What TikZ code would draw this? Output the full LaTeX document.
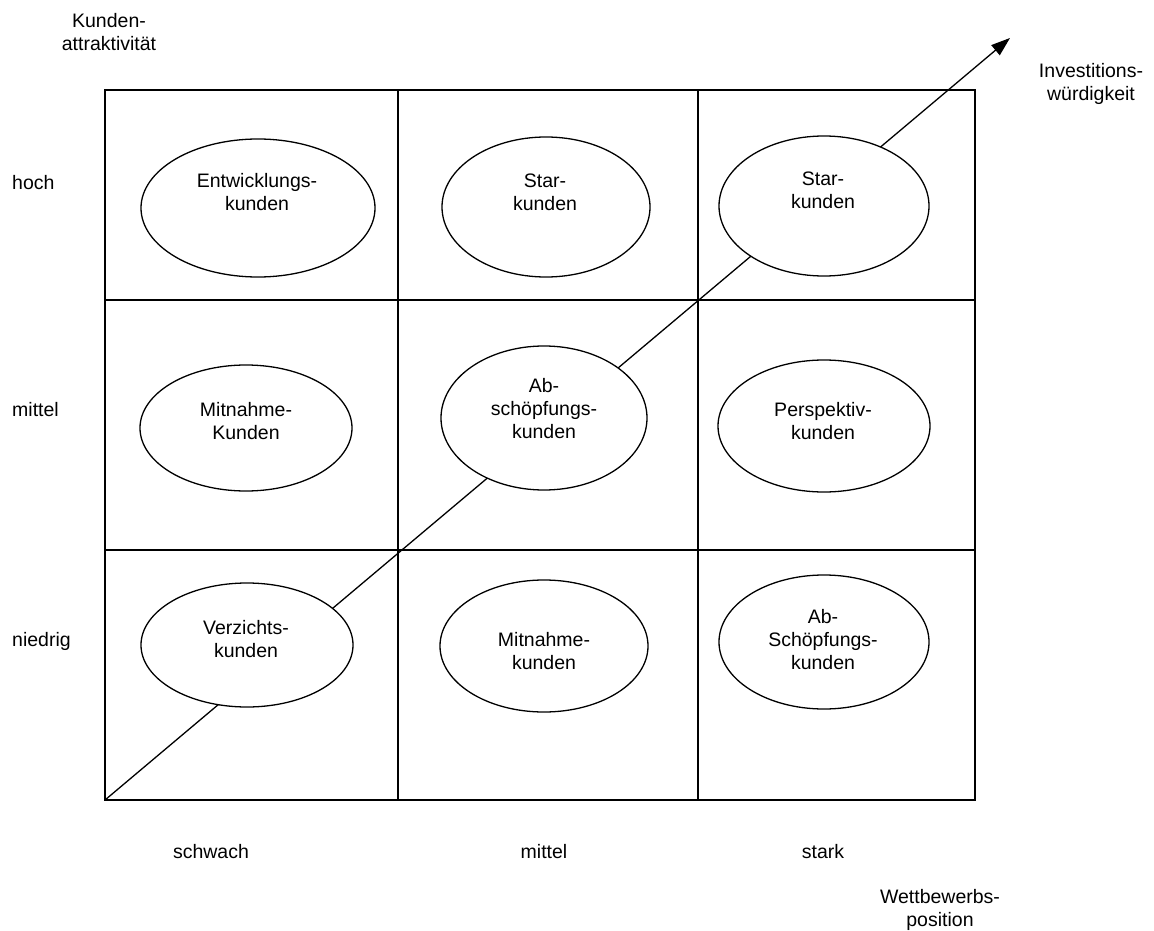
\documentclass[tikz,border=0pt]{standalone}
\usepackage{fontspec}
\setmainfont{Liberation Sans}
\usetikzlibrary{shapes.geometric,arrows.meta}
\tikzset{
  grid/.style={line width=1.7pt, line cap=rect},
  ell/.style={ellipse, draw, line width=1.3pt, fill=white, inner sep=0pt},
  lbl/.style={align=center, inner sep=0pt, font=\fontsize{19.5}{23}\selectfont},
  axis/.style={line width=1.3pt, -{Triangle[length=19pt,width=13pt]}}
}
\begin{document}
\begin{tikzpicture}[x=1pt,y=-1pt]
\useasboundingbox (0,0) rectangle (1154,931);
% grid corners
\coordinate (tl) at (105,90);
\coordinate (tr) at (975,90);
\coordinate (bl) at (105,800);
\coordinate (br) at (975,800);
\coordinate (v1t) at (398,90);
\coordinate (v1b) at (398,800);
\coordinate (v2t) at (698,90);
\coordinate (v2b) at (698,800);
\coordinate (h1l) at (105,300);
\coordinate (h1r) at (975,300);
\coordinate (h2l) at (105,550);
\coordinate (h2r) at (975,550);
\coordinate (tip) at (1010,38);
\draw[grid] (tl) rectangle (br);
\draw[grid] (v1t) -- (v1b);
\draw[grid] (v2t) -- (v2b);
\draw[grid] (h1l) -- (h1r);
\draw[grid] (h2l) -- (h2r);
% diagonal arrow
\draw[axis] (bl) -- (tip);
% ellipses
\node[ell, minimum width=234, minimum height=138] (e11) at (258,208) {};
\node[ell, minimum width=208, minimum height=140] (e12) at (546,207) {};
\node[ell, minimum width=210, minimum height=140] (e13) at (824,206) {};
\node[ell, minimum width=212, minimum height=126] (e21) at (246,428) {};
\node[ell, minimum width=206, minimum height=144] (e22) at (544,418) {};
\node[ell, minimum width=212, minimum height=132] (e23) at (824,426) {};
\node[ell, minimum width=212, minimum height=124] (e31) at (247,645) {};
\node[ell, minimum width=208, minimum height=132] (e32) at (544,646) {};
\node[ell, minimum width=210, minimum height=134] (e33) at (824,642) {};
% ellipse texts
\node[lbl] (t11) at (257,192) {Entwicklungs-\\kunden};
\node[lbl] (t12) at (545,192) {Star-\\kunden};
\node[lbl] (t13) at (823,190) {Star-\\kunden};
\node[lbl] (t21) at (246,421) {Mitnahme-\\Kunden};
\node[lbl] (t22) at (544,409) {Ab-\\schöpfungs-\\kunden};
\node[lbl] (t23) at (823,421) {Perspektiv-\\kunden};
\node[lbl] (t31) at (246,639) {Verzichts-\\kunden};
\node[lbl] (t32) at (544,651) {Mitnahme-\\kunden};
\node[lbl] (t33) at (823,640) {Ab-\\Schöpfungs-\\kunden};
% axis labels
\node[lbl] (ka) at (109,32) {Kunden-\\attraktivität};
\node[lbl] (iw) at (1091,84) {Investitions-\\würdigkeit};
\node[lbl] (wp) at (940,910) {Wettbewerbs-\\position};
\node[lbl, anchor=west] (rhoch) at (12,183) {hoch};
\node[lbl, anchor=west] (rmittel) at (12,410) {mittel};
\node[lbl, anchor=west] (rniedrig) at (12,641) {niedrig};
\node[lbl] (cschwach) at (211,852) {schwach};
\node[lbl] (cmittel) at (544,852) {mittel};
\node[lbl] (cstark) at (823,852) {stark};
\end{tikzpicture}
\end{document}
